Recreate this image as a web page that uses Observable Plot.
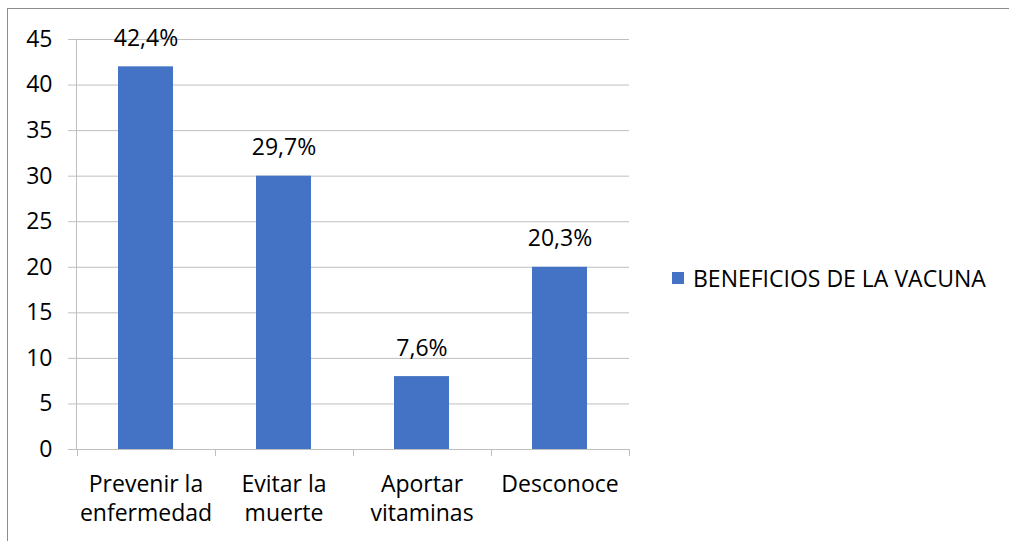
<!DOCTYPE html>
<html><head><meta charset="utf-8">
<script src="https://cdn.jsdelivr.net/npm/d3@7"></script>
<script src="https://cdn.jsdelivr.net/npm/@observablehq/plot@0.6"></script>
<style>
html,body{margin:0;padding:0;background:#fff;overflow:hidden;}
#wrap{position:relative;width:1009px;height:541px;font-family:"Open Sans",sans-serif;}
#border{position:absolute;left:7px;top:8px;width:1200px;height:800px;border:1px solid #8c8c8c;box-sizing:border-box;}
#chart{position:absolute;left:0;top:0;}
#legend{position:absolute;left:672px;top:262px;height:32px;display:flex;align-items:center;font-size:23px;line-height:32px;color:#000;white-space:nowrap;}
#legend .sw{display:inline-block;width:12px;height:12px;background:#4472C4;margin-right:9px;}
</style></head><body>
<div id="wrap"><div id="border"></div><div id="chart"></div><div id="legend"></div></div>
<script>
const categories = ["Prevenir la enfermedad","Evitar la muerte","Aportar vitaminas","Desconoce"];
const tickLabels = ["Prevenir la\nenfermedad","Evitar la\nmuerte","Aportar\nvitaminas","Desconoce"];
const values = [42, 30, 8, 20];
const valueLabels = ["42,4%","29,7%","7,6%","20,3%"];
const seriesName = "BENEFICIOS DE LA VACUNA";
const yTicks = [0,5,10,15,20,25,30,35,40,45];
const barColor = "#4472C4";
const gridColor = "#bfbfbf";

const data = categories.map((c,i)=>({cat:c, v:values[i], label:valueLabels[i]}));

const boundaries = (index, scales, values, dims) => {
  const x = scales.x;
  const step = x(categories[1]) - x(categories[0]);
  const g = d3.create("svg:g").attr("stroke", gridColor).attr("stroke-width", 1);
  const y0 = dims.height - dims.marginBottom;
  const left = dims.marginLeft;
  g.append("line").attr("x1", left+0.5).attr("x2", left+0.5).attr("y1", dims.marginTop).attr("y2", y0);
  const xs = categories.map(c => x(c) - 0.3*step);
  xs.push(xs[xs.length-1] + step);
  for (const bx of xs) {
    const px = Math.round(bx) + 0.5;
    g.append("line").attr("x1", px).attr("x2", px).attr("y1", y0).attr("y2", y0 + 7);
  }
  return g.node();
};

const chart = Plot.plot({
  width: 1009, height: 541,
  marginLeft: 76, marginRight: 380, marginTop: 39, marginBottom: 92,
  style: {fontFamily: '"Open Sans", sans-serif', fontSize: "23px", color: "#000", background: "transparent"},
  x: {domain: categories, paddingInner: 0.6, paddingOuter: 0.3, axis: null},
  y: {domain: [0, 45], axis: null},
  marks: [
    Plot.gridY(yTicks, {stroke: gridColor, strokeOpacity: 1}),
    Plot.axisY({ticks: yTicks, tickSize: 8, tickPadding: 16, stroke: gridColor, strokeOpacity: 1, fontSize: 23, fill: "#000", label: null}),
    Plot.barY(data, {x: "cat", y: "v", fill: barColor}),
    Plot.text(data, {x: "cat", y: "v", text: "label", dy: -21, lineAnchor: "bottom", fontSize: 23, fill: "#000"}),
    Plot.axisX({tickSize: 0, tickPadding: 22, fontSize: 23, fill: "#000", lineHeight: 1.26, label: null,
      tickFormat: d => tickLabels[categories.indexOf(d)]}),
    boundaries
  ]
});
document.getElementById("chart").appendChild(chart);

const lg = document.getElementById("legend");
const sw = document.createElement("span"); sw.className = "sw"; lg.appendChild(sw);
const tx = document.createElement("span"); tx.textContent = seriesName; lg.appendChild(tx);
</script>
</body></html>
